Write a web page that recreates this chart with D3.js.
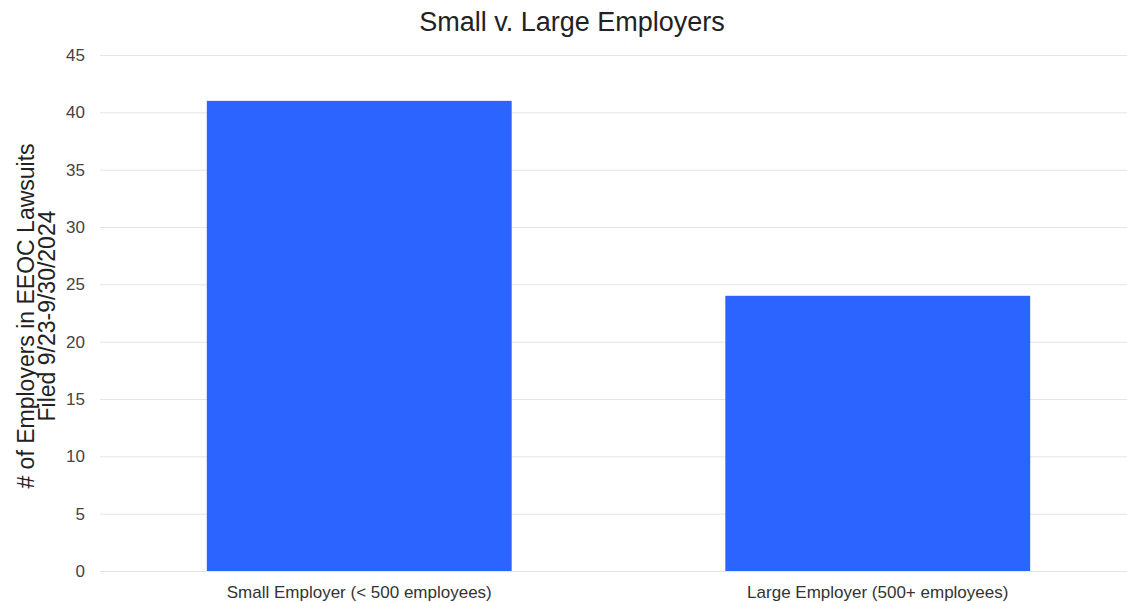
<!DOCTYPE html>
<html>
<head>
<meta charset="utf-8">
<script src="https://cdn.jsdelivr.net/npm/d3@7"></script>
<style>
  body { margin: 0; background: #fff; }
  text { font-family: "Liberation Sans", Arial, sans-serif; }
  .grid line { stroke: #e4e4e4; }
  .grid .domain { display: none; }
</style>
</head>
<body>
<div id="chart"></div>
<script>
// chart data
const categories = ['Small Employer (< 500 employees)', 'Large Employer (500+ employees)'];
const counts = [41, 24];
const yTicks = [0, 5, 10, 15, 20, 25, 30, 35, 40, 45];

const width = 1127, height = 603;
const margin = {top: 55, right: -10, bottom: 32, left: 100};
const innerW = width - margin.left - margin.right;
const innerH = height - margin.top - margin.bottom;

const svg = d3.select('#chart').append('svg')
    .attr('width', width)
    .attr('height', height);

const chart = svg.append('g')
    .attr('transform', `translate(${margin.left},${margin.top})`);

const xScale = d3.scaleBand()
    .domain(categories)
    .range([0, innerW])
    .paddingInner(0.412)
    .paddingOuter(0.206);

const yScale = d3.scaleLinear()
    .domain([0, 45])
    .range([innerH, 0]);

// gridlines
chart.append('g')
    .attr('class', 'grid')
    .call(d3.axisLeft(yScale).tickValues(yTicks).tickSize(-innerW).tickFormat(''));

// y tick labels
chart.selectAll('.y-label')
    .data(yTicks)
    .join('text')
    .attr('class', 'y-label')
    .attr('x', -15)
    .attr('y', d => yScale(d))
    .attr('dy', '0.36em')
    .attr('text-anchor', 'end')
    .style('font-size', '17px')
    .style('fill', '#444')
    .text(d => d);

// bars
chart.selectAll('rect.bar')
    .data(counts)
    .join('rect')
    .attr('class', 'bar')
    .attr('x', (d, i) => xScale(categories[i]))
    .attr('y', d => yScale(d))
    .attr('width', xScale.bandwidth())
    .attr('height', d => innerH - yScale(d))
    .style('fill', '#2c64ff');

// x labels
chart.selectAll('.x-label')
    .data(categories)
    .join('text')
    .attr('class', 'x-label')
    .attr('x', d => xScale(d) + xScale.bandwidth() / 2)
    .attr('y', innerH + 27)
    .attr('text-anchor', 'middle')
    .style('font-size', '17px')
    .style('fill', '#333')
    .text(d => d);

// title
svg.append('text')
    .attr('x', 572)
    .attr('y', 31)
    .attr('text-anchor', 'middle')
    .style('font-size', '27px')
    .style('fill', '#222')
    .text('Small v. Large Employers');

// y axis title
const yTitle = svg.append('text')
    .attr('transform', 'translate(34, 316) rotate(-90)')
    .attr('text-anchor', 'middle')
    .style('font-size', '23px')
    .style('fill', '#222');
yTitle.append('tspan').attr('x', 0).attr('dy', 0).text('# of Employers in EEOC Lawsuits');
yTitle.append('tspan').attr('x', 0).attr('dy', 21).text('Filed 9/23-9/30/2024');
</script>
</body>
</html>
